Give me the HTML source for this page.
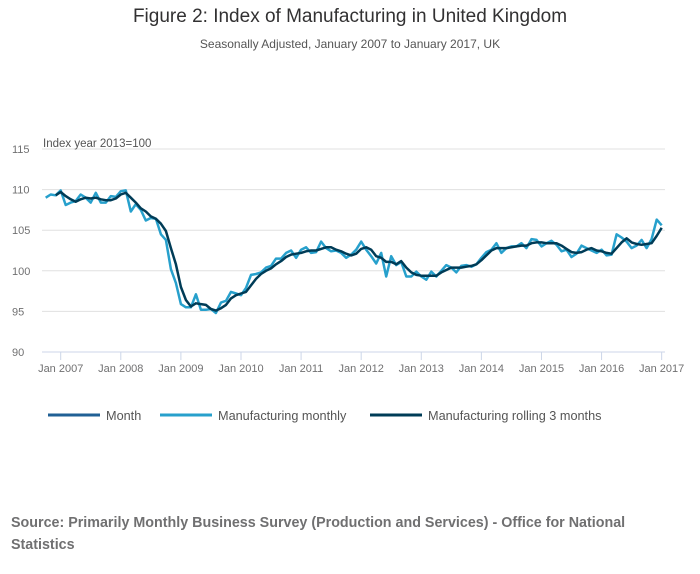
<!DOCTYPE html>
<html><head><meta charset="utf-8">
<style>
body{margin:0;background:#fff;font-family:"Liberation Sans",sans-serif}
#wrap{position:relative;width:700px;height:574px;overflow:hidden}
.t{position:absolute;white-space:nowrap}
</style></head><body>
<div id="wrap">
<div class="t" style="left:0;width:700px;text-align:center;top:6px;font-size:19px;color:#323132">Figure 2: Index of Manufacturing in United Kingdom</div>
<div class="t" style="left:0;width:700px;text-align:center;top:37px;font-size:12px;color:#555">Seasonally Adjusted, January 2007 to January 2017, UK</div>
<div class="t" style="left:11px;top:512px;font-size:14.3px;font-weight:bold;color:#707071;line-height:22px">Source: Primarily Monthly Business Survey (Production and Services) - Office for National<br>Statistics</div>
<svg id="chart" width="700" height="574" style="position:absolute;left:0;top:0"></svg>
</div>
<script>
const yTicks=[90,95,100,105,110,115];
const xTickLabels=["Jan 2007","Jan 2008","Jan 2009","Jan 2010","Jan 2011","Jan 2012","Jan 2013","Jan 2014","Jan 2015","Jan 2016","Jan 2017"];
const monthlyStart=-3; // months relative to Jan 2007 (Oct 2006)
const monthly=[109.0,109.4,109.3,109.9,108.1,108.4,108.6,109.4,109.0,108.4,109.6,108.4,108.4,109.2,109.1,109.8,109.9,107.3,108.2,107.5,106.2,106.5,106.4,104.5,103.8,100.2,98.5,95.9,95.5,95.5,97.1,95.2,95.2,95.3,94.8,96.1,96.3,97.4,97.2,97.0,97.9,99.5,99.6,99.8,100.4,100.6,101.5,101.5,102.2,102.5,101.6,102.6,102.9,102.2,102.3,103.6,102.8,102.4,102.5,102.2,101.6,102.0,102.6,103.6,102.6,101.8,100.9,102.2,99.3,101.8,100.7,101.1,99.3,99.3,99.9,99.3,98.9,99.9,99.3,100.0,100.7,100.4,99.8,100.6,100.7,100.5,100.8,101.6,102.3,102.6,103.4,102.2,102.8,103.0,103.0,103.4,102.8,103.9,103.8,103.0,103.4,103.7,103.2,102.4,102.6,101.7,102.1,103.1,102.8,102.5,102.2,102.6,101.9,102.0,104.5,104.1,103.6,102.8,103.1,103.8,102.8,103.9,106.3,105.6];
const rollingStart=-1; // Dec 2006
const rolling=[109.3,109.7,109.2,108.8,108.5,108.8,109.0,108.9,109.0,108.8,108.7,108.7,108.9,109.4,109.6,109.0,108.4,107.7,107.3,106.7,106.4,105.8,104.9,102.8,100.8,98.0,96.4,95.6,96.0,95.9,95.8,95.3,95.1,95.4,95.8,96.6,97.0,97.2,97.4,98.2,99.0,99.6,100.0,100.3,100.8,101.2,101.7,102.0,102.1,102.2,102.4,102.5,102.5,102.7,102.9,102.9,102.6,102.4,102.1,101.9,102.1,102.7,102.9,102.6,101.8,101.6,101.1,101.1,100.8,101.2,100.4,99.8,99.5,99.4,99.4,99.4,99.4,99.8,100.1,100.4,100.4,100.4,100.5,100.6,100.8,101.3,101.9,102.5,102.8,102.8,102.8,102.9,103.0,103.1,103.1,103.4,103.5,103.5,103.4,103.4,103.4,103.1,102.7,102.3,102.2,102.3,102.6,102.8,102.5,102.4,102.2,102.1,102.8,103.5,104.0,103.5,103.3,103.2,103.3,103.4,104.3,105.3];
const svg=document.getElementById('chart');const NS='http://www.w3.org/2000/svg';
function mk(t,a){const e=document.createElementNS(NS,t);for(const k in a)e.setAttribute(k,a[k]);svg.appendChild(e);return e;}
const x=m=>60.7+m*5.008;
const y=v=>352-(v-90)*8.12;
yTicks.forEach(v=>{
 const l=mk('line',{x1:42,x2:665,y1:y(v),y2:y(v),stroke:v===90?'#ccd6e8':'#e0e0e0','stroke-width':1});
 
 
 const t=mk('text',{x:12,y:y(v)+4,'font-size':11,fill:'#707071','font-family':'Liberation Sans, sans-serif'});
 t.textContent=v;
 
 
});
const yt=mk('text',{x:43,y:147,'font-size':11.5,fill:'#555','font-family':'Liberation Sans, sans-serif'});
yt.textContent='Index year 2013=100';


xTickLabels.forEach((s,i)=>{
 const l=mk('line',{x1:x(i*12),x2:x(i*12),y1:352,y2:360,stroke:'#ccd6e8'});
 
 
 const t=mk('text',{x:x(i*12),y:372,'font-size':11,fill:'#707071','text-anchor':'middle','font-family':'Liberation Sans, sans-serif'});
 t.textContent=s;
 
 
});
function path(arr,start,col,w,name){
 const d=arr.map((v,i)=>(i?'L':'M')+x(start+i).toFixed(1)+','+y(v).toFixed(1)).join('');
 const p=mk('path',{d:d,fill:'none',stroke:col,'stroke-width':w,'stroke-linejoin':'round'});
 
 
}
path(monthly,monthlyStart,'#27a0cc',2.5,'series-manufacturing-monthly');
path(rolling,rollingStart,'#003c57',2.5,'series-rolling-3-months');
const leg=[['Month','#206095',48],['Manufacturing monthly','#27a0cc',160],['Manufacturing rolling 3 months','#003c57',370]];
leg.forEach(([s,c,lx])=>{
 const l=mk('line',{x1:lx,x2:lx+52,y1:415,y2:415,stroke:c,'stroke-width':3});
 
 
 const t=mk('text',{x:lx+58,y:420,'font-size':12.7,fill:'#555','font-family':'Liberation Sans, sans-serif'});
 t.textContent=s;
 
 
});
</script>
</body></html>
